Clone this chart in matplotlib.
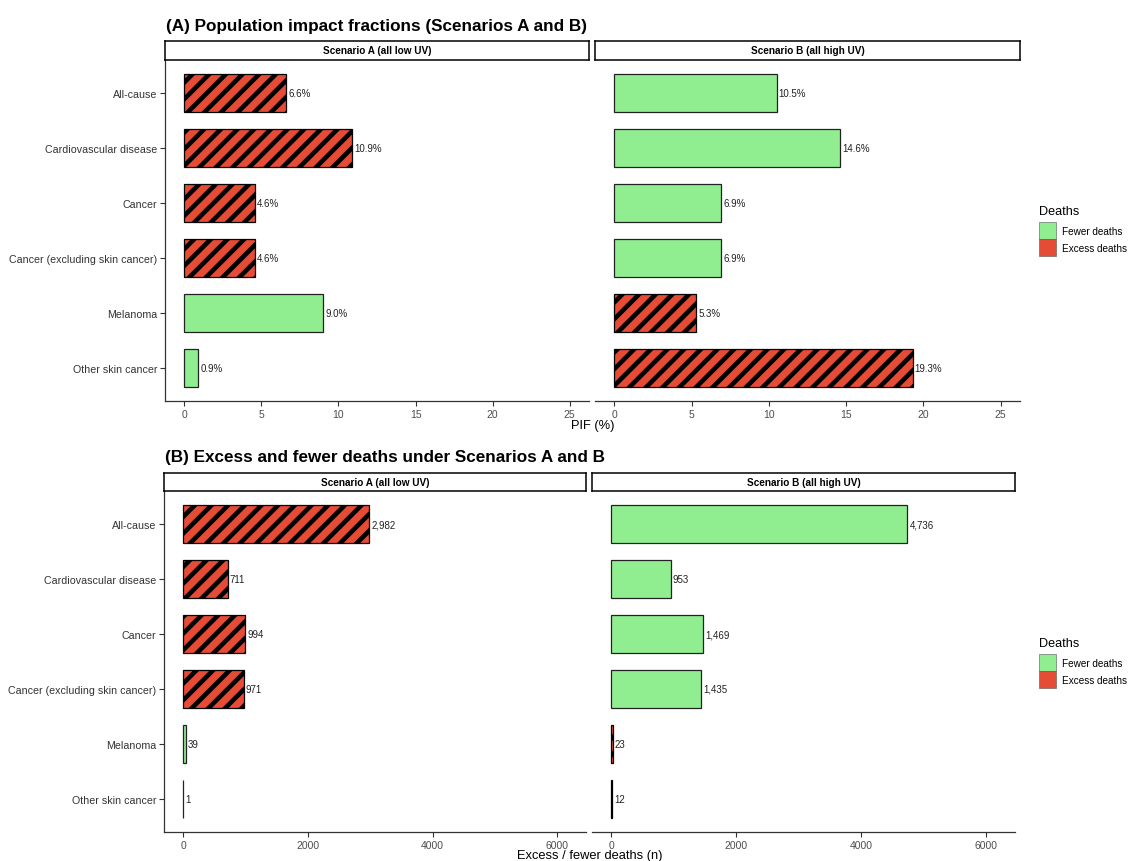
import numpy as np
import matplotlib
matplotlib.use('Agg')
import matplotlib.pyplot as plt
from matplotlib.patches import Patch

plt.rcParams['font.family'] = ['Liberation Sans', 'DejaVu Sans']
plt.rcParams['hatch.linewidth'] = 3.3

# data
categories = ["All-cause", "Cardiovascular disease", "Cancer",
              "Cancer (excluding skin cancer)", "Melanoma", "Other skin cancer"]
pif_a = [6.6, 10.9, 4.6, 4.6, 9.0, 0.9]
pif_b = [10.5, 14.6, 6.9, 6.9, 5.3, 19.3]
deaths_a = [2982, 711, 994, 971, 39, 1]
deaths_b = [4736, 953, 1469, 1435, 23, 12]
type_a = ["Excess", "Excess", "Excess", "Excess", "Fewer", "Fewer"]
type_b = ["Fewer", "Fewer", "Fewer", "Fewer", "Excess", "Excess"]
scenarios = ["Scenario A (all low UV)", "Scenario B (all high UV)"]
pif_ticks = [0, 5, 10, 15, 20, 25]
death_ticks = [0, 2000, 4000, 6000]

GREEN = '#90EE90'
RED = '#E64B35'
DARK = '#333333'

W, H = 1131, 862
fig = plt.figure(figsize=(W / 100, H / 100), dpi=100)


def box(l, t, r, b):
    return [l / W, 1 - b / H, (r - l) / W, (b - t) / H]


def strip(l, t, r, b, label):
    s = fig.add_axes(box(l, t, r, b))
    s.set_xticks([])
    s.set_yticks([])
    s.set_zorder(5)
    for sp in s.spines.values():
        sp.set_linewidth(1.1)
        sp.set_color('black')
    s.text(0.5, 0.5, label, ha='center', va='center', fontsize=7.2,
           fontweight='bold', transform=s.transAxes)


def panel(rect, vals, types, xmax, ticks, fmt, show_y):
    ax = fig.add_axes(box(*rect))
    ax.patch.set_visible(False)
    y = np.arange(len(categories))
    for yi, v, t in zip(y, vals, types):
        if t == "Excess":
            ax.barh(yi, v, height=0.7, color=RED, edgecolor='black',
                    linewidth=0.9, hatch='//')
        else:
            ax.barh(yi, v, height=0.7, color=GREEN, edgecolor='#222222',
                    linewidth=0.9)
        ax.annotate(fmt(v), (v, yi), xytext=(1.5, 0), textcoords='offset points',
                    ha='left', va='center', fontsize=7, color='#222222')
    ax.set_xlim(-0.05 * xmax, 1.05 * xmax)
    ax.set_ylim(len(categories) - 0.4, -0.6)
    ax.set_xticks(ticks)
    ax.set_xticklabels([str(t) for t in ticks])
    ax.spines['top'].set_visible(False)
    ax.spines['right'].set_visible(False)
    ax.spines['bottom'].set_color(DARK)
    ax.spines['bottom'].set_linewidth(0.9)
    ax.tick_params(axis='x', length=3.5, width=0.8, color=DARK, pad=2,
                   labelsize=7.5, labelcolor='#4d4d4d')
    if show_y:
        ax.spines['left'].set_color(DARK)
        ax.spines['left'].set_linewidth(0.9)
        ax.set_yticks(y)
        ax.set_yticklabels(categories)
        ax.tick_params(axis='y', length=3.5, width=0.8, color=DARK, pad=2,
                       labelsize=7.7, labelcolor='#333333')
    else:
        ax.spines['left'].set_visible(False)
        ax.set_yticks([])
    return ax


def legend(top):
    # title drawn on its own so the gap to the keys matches the original
    fig.text(1039 / W, 1 - (top - 11) / H, 'Deaths', ha='left', va='center', fontsize=9.1)
    handles = [Patch(facecolor=GREEN, edgecolor='#555555', linewidth=0.4, label='Fewer deaths'),
               Patch(facecolor=RED, edgecolor='#555555', linewidth=0.4, label='Excess deaths')]
    fig.legend(handles=handles, loc='upper left',
               bbox_to_anchor=(1039 / W, 1 - top / H), frameon=False,
               fontsize=7.2, handlelength=1.7, handleheight=2.24, labelspacing=0.0,
               handletextpad=0.65, borderpad=0.0, borderaxespad=0.0)


pct = lambda v: f"{v:.1f}%"
num = lambda v: f"{v:,}"

# (A) population impact fractions
fig.text(166 / W, 1 - 27 / H, "(A) Population impact fractions (Scenarios A and B)",
         ha='left', va='center', fontsize=12.3, fontweight='bold')
strip(165, 42, 589, 61, scenarios[0])
strip(595, 42, 1020, 61, scenarios[1])
panel((165, 61, 589, 402), pif_a, type_a, 25, pif_ticks, pct, True)
panel((595, 61, 1020, 402), pif_b, type_b, 25, pif_ticks, pct, False)
fig.text(592.5 / W, 1 - 426 / H, "PIF (%)", ha='center', va='center', fontsize=9.3)
legend(223)

# (B) excess / fewer deaths
fig.text(165 / W, 1 - 458 / H, "(B) Excess and fewer deaths under Scenarios A and B",
         ha='left', va='center', fontsize=12.3, fontweight='bold')
strip(164, 474, 586, 492, scenarios[0])
strip(592, 474, 1015, 492, scenarios[1])
death_max = 6150
panel((164, 492, 586, 833), deaths_a, type_a, death_max, death_ticks, num, True)
panel((592, 492, 1015, 833), deaths_b, type_b, death_max, death_ticks, num, False)
fig.text(589.5 / W, 1 - 856 / H, "Excess / fewer deaths (n)", ha='center', va='center',
         fontsize=9.3)
legend(655)

fig.savefig('out.png', dpi=100)
